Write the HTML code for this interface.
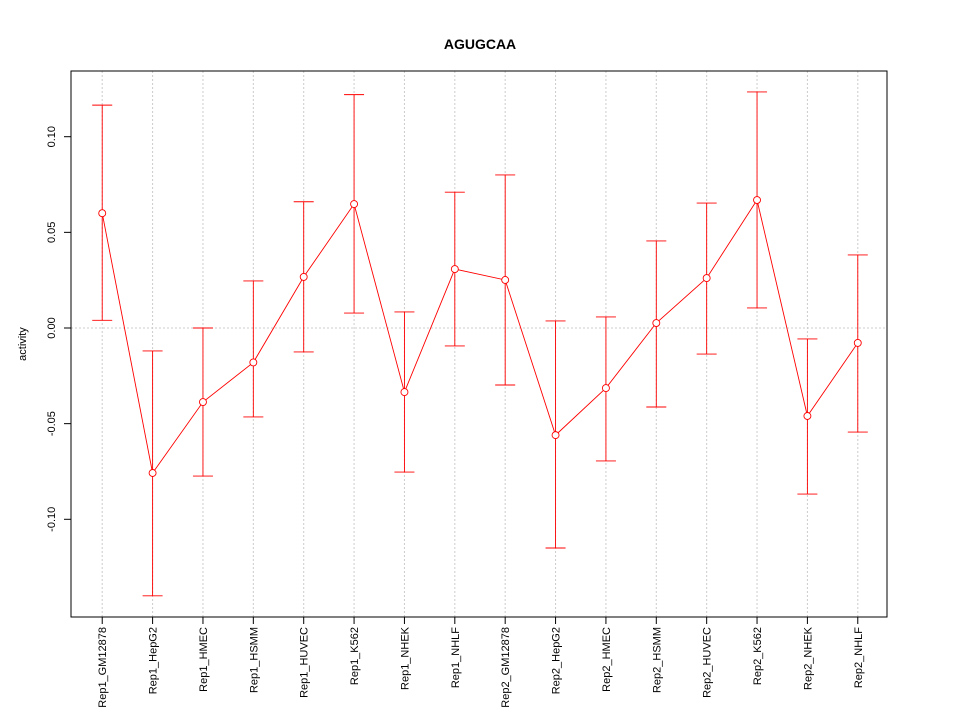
<!DOCTYPE html>
<html><head><meta charset="utf-8"><style>
body{margin:0;background:#fff}
svg{font-family:"Liberation Sans",sans-serif}
</style></head><body>
<svg id="chart" width="960" height="720" viewBox="0 0 960 720" xmlns="http://www.w3.org/2000/svg">
<rect width="960" height="720" fill="#fff"/>
<text x="480" y="49" text-anchor="middle" font-size="14" font-weight="bold">AGUGCAA</text>
<text transform="translate(26,344) rotate(-90)" text-anchor="middle" font-size="11">activity</text>
<g id="grid"></g><g id="marks"></g><g id="axes"></g>
<rect x="71" y="71" width="816" height="546" fill="none" stroke="#000"/>
</svg>
<script>
const categories=["Rep1_GM12878","Rep1_HepG2","Rep1_HMEC","Rep1_HSMM","Rep1_HUVEC","Rep1_K562","Rep1_NHEK","Rep1_NHLF","Rep2_GM12878","Rep2_HepG2","Rep2_HMEC","Rep2_HSMM","Rep2_HUVEC","Rep2_K562","Rep2_NHEK","Rep2_NHLF"];
const means=[0.060,-0.0758,-0.0387,-0.018,0.0267,0.0648,-0.0335,0.0308,0.0251,-0.056,-0.0314,0.0026,0.0261,0.0669,-0.046,-0.0078];
const upper=[0.1165,-0.012,0.0,0.0246,0.066,0.122,0.0084,0.071,0.080,0.0037,0.0058,0.0455,0.0653,0.1234,-0.0057,0.0382];
const lower=[0.004,-0.140,-0.0774,-0.0465,-0.0125,0.0078,-0.0753,-0.0094,-0.0298,-0.115,-0.0695,-0.0413,-0.0136,0.0105,-0.0868,-0.0544];
const yTicks=[-0.10,-0.05,0.00,0.05,0.10];
const yTickLabels=["-0.10","-0.05","0.00","0.05","0.10"];
const NS="http://www.w3.org/2000/svg";
const xs=i=>72+(i+0.6)*(816/16.2);
const ys=v=>328-v*1913;
function mk(p,t,a){const e=document.createElementNS(NS,t);for(const k in a)e.setAttribute(k,a[k]);p.appendChild(e);return e;}
const grid=document.getElementById('grid'),marks=document.getElementById('marks'),axes=document.getElementById('axes');
categories.forEach((c,i)=>{
 const g=mk(grid,'line',{x1:xs(i),x2:xs(i),y1:71,y2:617,stroke:'#ccc','stroke-dasharray':'2,2'});
 
 
 const t=mk(axes,'line',{x1:xs(i),x2:xs(i),y1:617,y2:624,stroke:'#000'});
 
 
 const l=mk(axes,'text',{transform:`translate(${xs(i)+4},627) rotate(-90)`,'text-anchor':'end','font-size':'11'});
 l.textContent=c;
 
 
});
const z=mk(grid,'line',{x1:71,x2:887,y1:ys(0),y2:ys(0),stroke:'#ccc','stroke-dasharray':'2,2'});


const sp=mk(axes,'line',{x1:71,x2:71,y1:ys(yTicks[0]),y2:ys(yTicks[yTicks.length-1]),stroke:'#000'});


yTicks.forEach((v,i)=>{
 const t=mk(axes,'line',{x1:64,x2:71,y1:ys(v),y2:ys(v),stroke:'#000'});
 
 
 const l=mk(axes,'text',{transform:`translate(55,${ys(v)}) rotate(-90)`,'text-anchor':'middle','font-size':'11'});
 l.textContent=yTickLabels[i];
 
 
});
const line=mk(marks,'polyline',{points:means.map((m,i)=>xs(i)+','+ys(m)).join(' '),fill:'none',stroke:'#f00','stroke-width':'0.9'});


means.forEach((m,i)=>{
 const x=xs(i);
 const e=mk(marks,'path',{d:`M${x},${ys(lower[i])}V${ys(upper[i])}M${x-10},${ys(upper[i])}H${x+10}M${x-10},${ys(lower[i])}H${x+10}`,stroke:'#f00',fill:'none','stroke-width':'0.9'});
 
 
 const p=mk(marks,'circle',{cx:x,cy:ys(m),r:3.5,fill:'#fff',stroke:'#f00','stroke-width':'0.9'});
 
 
});
</script>
</body></html>
